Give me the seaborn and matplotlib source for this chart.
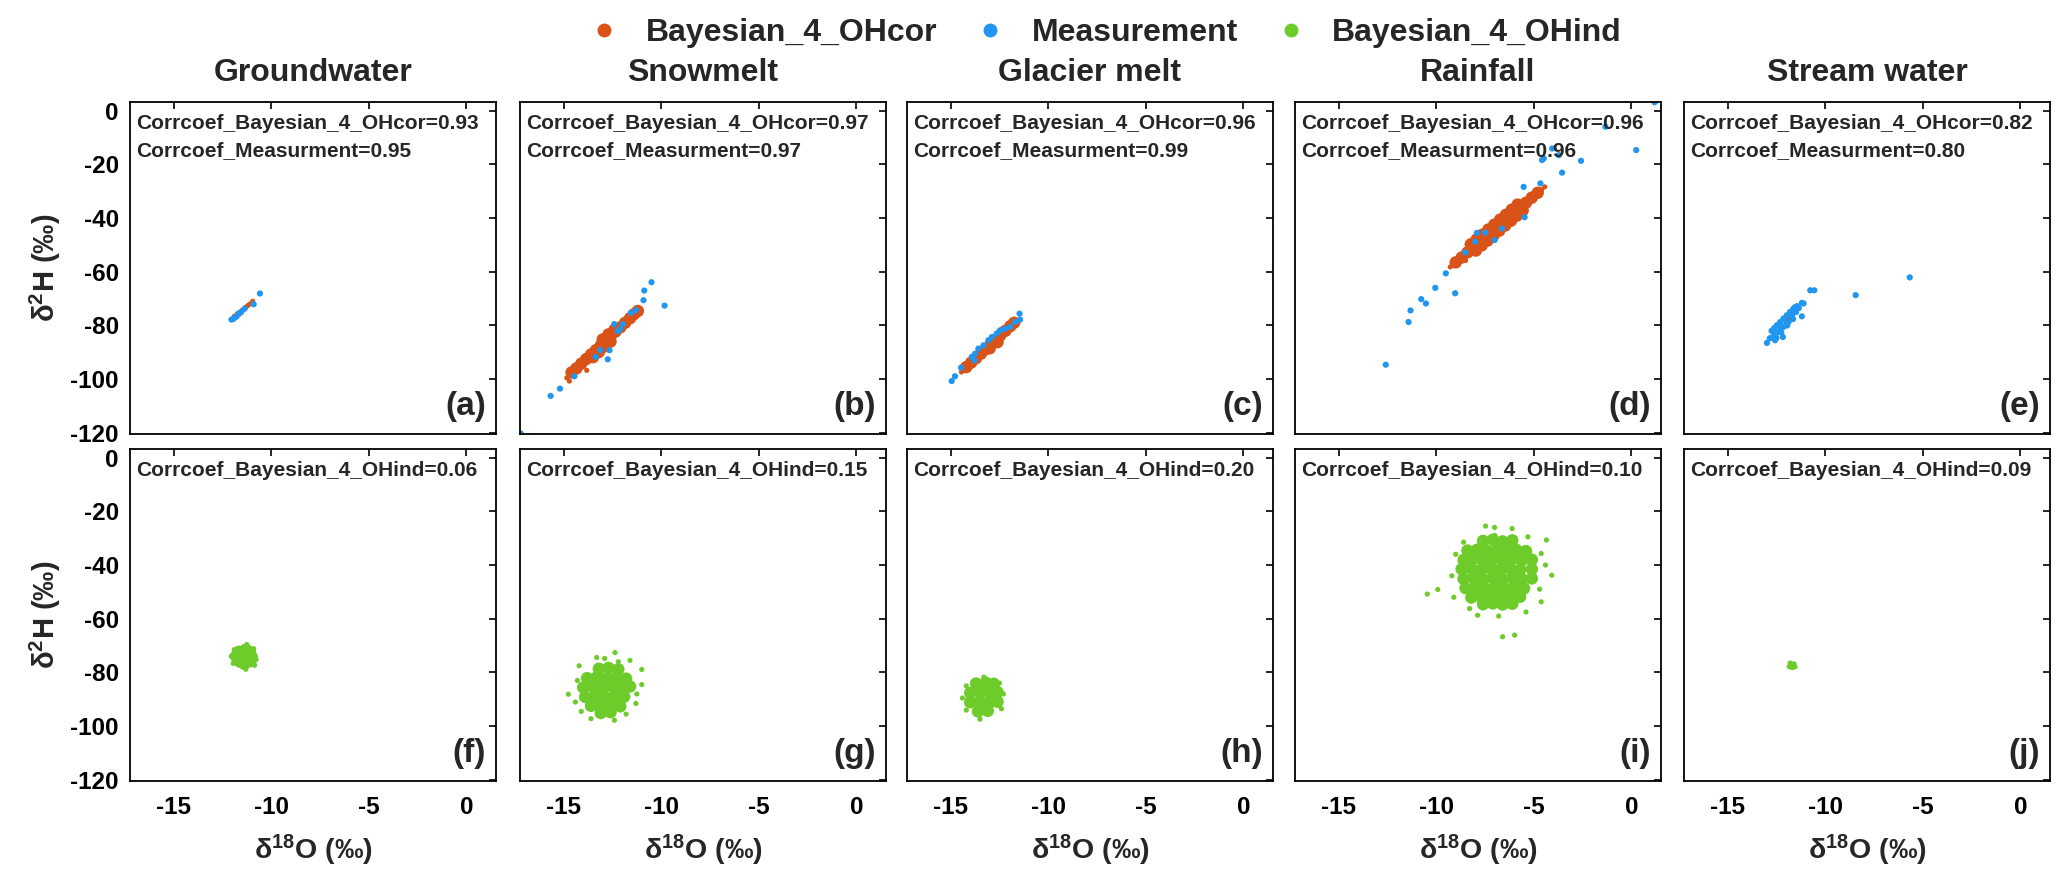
import matplotlib
matplotlib.use("Agg")
import matplotlib.pyplot as plt
import seaborn as sns
import pandas as pd
from matplotlib.lines import Line2D

# ---------------- data ----------------
SOURCES = ["Groundwater", "Snowmelt", "Glacier melt", "Rainfall", "Stream water"]
PANEL_TOP = ["(a)", "(b)", "(c)", "(d)", "(e)"]
PANEL_BOT = ["(f)", "(g)", "(h)", "(i)", "(j)"]
CORR_COR = [0.93, 0.97, 0.96, 0.96, 0.82]
CORR_MEAS = [0.95, 0.97, 0.99, 0.96, 0.80]
CORR_IND = [0.06, 0.15, 0.20, 0.10, 0.09]
SERIES = ["Bayesian_4_OHcor", "Measurement", "Bayesian_4_OHind"]
X_TICKS = [-15, -10, -5, 0]
Y_TICKS = [0, -20, -40, -60, -80, -100, -120]

# Groundwater
GW_COR_CORE = []
GW_COR_EDGE = [(-11.9, -76.6), (-11.75, -75.8), (-11.6, -75.2), (-11.5, -74.4), (-11.4, -74.0),
               (-11.3, -73.2), (-11.2, -72.6), (-11.1, -72.0), (-10.95, -71.0), (-11.65, -75.9)]
GW_MEAS = [(-12.04, -77.8), (-11.95, -77.6), (-11.85, -77.0), (-11.77, -76.6), (-11.65, -75.4),
           (-11.54, -75.0), (-11.36, -73.7), (-10.9, -72.1), (-10.58, -68.1)]
GW_IND_CORE = [(-11.65, -72.3), (-11.1, -72.4), (-11.62, -75.9), (-11.08, -75.8), (-11.35, -74.1),
               (-11.3, -71.5), (-11.38, -76.8), (-11.8, -74.0), (-11.0, -74.2)]
GW_IND_EDGE = [(-12.05, -74.0), (-10.78, -75.2), (-11.25, -69.6), (-11.3, -78.8), (-11.9, -71.5),
               (-10.85, -77.3), (-11.95, -76.6), (-10.9, -71.2)]

# Snowmelt
SM_COR_CORE = [(-14.6, -97.5), (-14.35, -96.0), (-14.1, -94.2), (-13.85, -92.5), (-13.6, -90.8),
               (-13.35, -89.2), (-13.1, -87.5), (-12.85, -85.7), (-12.6, -84.0), (-12.35, -82.3),
               (-12.1, -80.7), (-11.85, -79.0), (-11.6, -77.3), (-11.4, -75.8), (-11.2, -74.6),
               (-13.5, -91.8), (-13.2, -89.9), (-12.9, -87.8), (-12.6, -86.0), (-13.0, -85.2),
               (-12.7, -83.3), (-12.4, -81.6)]
SM_COR_EDGE = [(-14.84, -99.5), (-14.71, -100.7), (-13.82, -96.7), (-11.08, -74.1), (-11.3, -73.6),
               (-14.5, -98.6), (-12.0, -79.5)]
SM_MEAS = [(-17.2, -120.2), (-15.67, -106.2), (-15.19, -103.5), (-14.45, -98.9), (-13.36, -91.7),
           (-13.13, -89.2), (-12.74, -92.6), (-12.65, -89.2), (-12.41, -79.5), (-12.23, -82.1),
           (-12.11, -81.4), (-11.97, -79.5), (-11.56, -75.3), (-11.29, -74.3), (-10.91, -70.6),
           (-10.87, -67.0), (-10.50, -63.9), (-9.83, -72.6)]
SM_IND_CORE = [(-13.2, -78.6), (-12.7, -78.3), (-12.2, -78.8),
               (-13.8, -82.1), (-13.3, -81.8), (-12.8, -82.2), (-12.3, -81.9), (-11.8, -82.3),
               (-14.0, -85.6), (-13.5, -85.3), (-13.0, -85.7), (-12.5, -85.4), (-12.0, -85.6), (-11.6, -85.2),
               (-13.9, -89.1), (-13.4, -88.8), (-12.9, -89.2), (-12.4, -88.9), (-11.9, -89.0),
               (-13.6, -92.4), (-13.1, -92.7), (-12.6, -92.3), (-12.1, -92.6),
               (-13.1, -95.1), (-12.6, -94.8)]
SM_IND_EDGE = [(-14.76, -88.1), (-11.0, -78.9), (-11.0, -84.5), (-12.37, -72.6), (-14.21, -77.5),
               (-13.31, -74.4), (-12.9, -74.8), (-11.6, -75.5), (-14.3, -83.0), (-14.4, -91.0),
               (-11.3, -91.5), (-13.6, -97.2), (-12.4, -97.8), (-11.8, -95.5), (-14.1, -94.5),
               (-12.2, -76.0), (-11.25, -88.0)]

# Glacier melt
GL_COR_CORE = [(-14.2, -95.5), (-13.95, -93.8), (-13.7, -92.2), (-13.45, -90.5), (-13.2, -88.8),
               (-12.95, -87.0), (-12.7, -85.3), (-12.45, -83.6), (-12.2, -82.0), (-11.95, -80.3),
               (-11.75, -79.0), (-13.0, -88.5), (-12.6, -86.2)]
GL_COR_EDGE = [(-14.35, -96.7), (-11.61, -78.1), (-14.45, -97.3)]
GL_MEAS = [(-14.95, -100.7), (-14.78, -98.9), (-14.47, -95.7), (-13.92, -91.7), (-13.75, -90.5),
           (-13.58, -88.6), (-13.32, -87.4), (-13.07, -85.5), (-12.89, -84.3), (-12.64, -83.0),
           (-12.47, -81.8), (-12.21, -81.2), (-11.95, -80.5), (-11.70, -78.7), (-11.47, -75.6),
           (-11.44, -77.8), (-13.78, -93.0)]
GL_IND_CORE = [(-13.7, -84.1), (-13.2, -83.8), (-12.8, -84.2),
               (-14.0, -87.6), (-13.5, -87.4), (-13.0, -87.7), (-12.6, -87.3),
               (-14.0, -91.1), (-13.5, -90.8), (-13.0, -91.2), (-12.6, -90.9),
               (-13.6, -94.5), (-13.1, -94.3)]
GL_IND_EDGE = [(-14.4, -89.5), (-12.3, -88.0), (-13.3, -81.7), (-13.5, -97.4), (-14.2, -85.0),
               (-12.4, -93.5), (-12.5, -84.0), (-14.2, -94.0)]

# Rainfall
RF_COR_CORE = [(-9.0, -56.5), (-8.7, -54.7), (-8.4, -52.8), (-8.1, -51.0), (-7.8, -49.1),
               (-7.5, -47.3), (-7.2, -45.4), (-6.9, -43.6), (-6.6, -41.7), (-6.3, -39.9),
               (-6.0, -38.0), (-5.7, -36.1), (-5.4, -34.3), (-5.1, -32.4), (-4.8, -30.6),
               (-7.97, -52.1), (-8.23, -49.8), (-7.67, -50.2), (-7.93, -48.0), (-7.37, -48.4),
               (-7.63, -46.2), (-7.07, -46.5), (-7.33, -44.3), (-6.77, -44.7), (-7.03, -42.5),
               (-6.47, -42.8), (-6.73, -40.6), (-6.17, -41.0), (-6.43, -38.8), (-5.87, -39.1),
               (-6.13, -36.9), (-5.57, -37.2), (-5.83, -35.0)]
RF_COR_EDGE = [(-9.28, -58.2), (-4.44, -28.4), (-4.6, -29.5), (-9.1, -57.5), (-8.5, -55.8),
               (-5.0, -31.0)]
RF_MEAS = [(-12.59, -94.6), (-11.42, -78.7), (-11.32, -74.4), (-10.77, -70.2), (-10.53, -71.8),
           (-10.05, -66.0), (-9.51, -60.6), (-9.03, -68.0), (-8.51, -52.8), (-8.0, -48.8),
           (-7.91, -45.5), (-7.49, -45.4), (-7.01, -48.2), (-6.63, -43.9), (-5.47, -39.7),
           (-5.52, -28.4), (-4.66, -27.1), (-4.58, -18.4), (-4.49, -17.8), (-4.06, -14.1),
           (-3.72, -16.6), (-3.55, -23.1), (-2.58, -18.7), (-1.33, -6.0), (0.25, -14.7),
           (1.19, 3.1)]
RF_IND_CORE = [(-7.6, -31.0), (-7.1, -30.6), (-6.6, -31.2), (-6.1, -30.8),
               (-8.4, -34.6), (-7.9, -34.3), (-7.4, -34.7), (-6.9, -34.4), (-6.4, -34.6), (-5.9, -34.3), (-5.4, -34.8),
               (-8.6, -38.1), (-8.1, -37.8), (-7.6, -38.2), (-7.1, -37.9), (-6.6, -38.1), (-6.1, -37.8), (-5.6, -38.2), (-5.1, -38.0),
               (-8.7, -41.5), (-8.2, -41.3), (-7.7, -41.7), (-7.2, -41.4), (-6.7, -41.6), (-6.2, -41.3), (-5.7, -41.7), (-5.1, -41.5),
               (-8.6, -45.1), (-8.1, -44.8), (-7.6, -45.2), (-7.1, -44.9), (-6.6, -45.1), (-6.1, -44.8), (-5.6, -45.2), (-5.1, -45.0),
               (-8.5, -48.6), (-8.0, -48.3), (-7.5, -48.7), (-7.0, -48.4), (-6.5, -48.6), (-6.0, -48.3), (-5.5, -48.7),
               (-8.2, -52.1), (-7.7, -51.8), (-7.2, -52.2), (-6.7, -51.9), (-6.2, -52.1), (-5.7, -51.8),
               (-7.6, -54.6), (-7.1, -54.3), (-6.6, -54.7), (-6.1, -54.4)]
RF_IND_EDGE = [(-10.46, -50.8), (-9.92, -49.1), (-7.47, -25.5), (-7.01, -26.0), (-6.11, -26.4),
               (-4.35, -30.7), (-4.62, -35.7), (-4.08, -43.8), (-6.60, -66.7), (-5.98, -66.1),
               (-4.62, -53.7), (-7.88, -58.7), (-8.29, -56.2), (-9.0, -36.0), (-9.2, -44.0),
               (-9.1, -52.0), (-8.6, -31.5), (-5.3, -29.5), (-4.4, -40.0), (-4.7, -49.0),
               (-6.8, -59.0), (-5.4, -57.5), (-7.0, -29.0)]

# Stream water
ST_COR_CORE = []
ST_COR_EDGE = [(-12.3, -80.5), (-11.9, -77.5), (-11.5, -74.0), (-12.6, -83.5), (-11.71, -77.4)]
ST_MEAS = [(-12.99, -86.5), (-12.74, -84.5), (-12.57, -85.5), (-12.17, -84.3), (-12.75, -82.0),
           (-12.62, -81.0), (-12.48, -79.9), (-12.31, -78.7), (-12.14, -77.4), (-11.97, -76.2),
           (-11.80, -74.9), (-11.63, -73.7), (-11.45, -72.8), (-11.20, -71.6), (-11.11, -71.8),
           (-11.20, -76.6), (-12.14, -80.5), (-11.88, -78.7), (-12.4, -82.5), (-12.0, -79.5),
           (-11.7, -76.5), (-11.5, -75.0), (-12.3, -81.2), (-12.55, -83.0), (-11.35, -73.5),
           (-12.85, -84.8), (-12.62, -82.8), (-12.35, -80.0), (-12.05, -77.9), (-11.75, -75.5),
           (-11.55, -73.2), (-12.5, -84.6), (-12.25, -82.6), (-11.95, -80.0), (-11.65, -77.6),
           (-10.77, -66.9), (-10.56, -66.9), (-8.44, -68.7), (-5.67, -62.1)]
ST_IND_CORE = []
ST_IND_EDGE = [(-11.8, -76.5), (-11.6, -76.8), (-11.7, -77.3), (-11.85, -77.8), (-11.55, -77.9),
               (-11.7, -78.2), (-11.75, -76.9)]

COR_CORE = [GW_COR_CORE, SM_COR_CORE, GL_COR_CORE, RF_COR_CORE, ST_COR_CORE]
COR_EDGE = [GW_COR_EDGE, SM_COR_EDGE, GL_COR_EDGE, RF_COR_EDGE, ST_COR_EDGE]
MEAS = [GW_MEAS, SM_MEAS, GL_MEAS, RF_MEAS, ST_MEAS]
IND_CORE = [GW_IND_CORE, SM_IND_CORE, GL_IND_CORE, RF_IND_CORE, ST_IND_CORE]
IND_EDGE = [GW_IND_EDGE, SM_IND_EDGE, GL_IND_EDGE, RF_IND_EDGE, ST_IND_EDGE]

# ---------------- style ----------------
ORANGE = "#D95319"
BLUE = "#2196F0"
GREEN = "#6DCB2A"

sns.set_style("white")
plt.rcParams["font.family"] = ["Liberation Sans", "DejaVu Sans"]
plt.rcParams["font.weight"] = "bold"
plt.rcParams["mathtext.fontset"] = "custom"
plt.rcParams["mathtext.rm"] = "Liberation Sans:bold"
plt.rcParams["mathtext.bf"] = "Liberation Sans:bold"
plt.rcParams["mathtext.it"] = "Liberation Sans:bold"

W, H = 2067, 884
fig = plt.figure(figsize=(W / 100, H / 100), dpi=100)

LEFTS = [130, 520, 907, 1295, 1684]
AW, AH = 366, 332
ROW_TOPS = [102, 449]
XLIM = (-17.24, 1.52)
YLIM = (-120.4, 3.2)

S_CORE, S_EDGE, S_MEAS = 80, 14, 20


def scatter(ax, pts, color, s):
    if not pts:
        return
    d = pd.DataFrame(pts, columns=["x", "y"])
    sns.scatterplot(data=d, x="x", y="y", ax=ax, color=color, s=s,
                    edgecolor="none", linewidth=0, legend=False)


for r in range(2):
    for c in range(5):
        l = LEFTS[c]
        top = ROW_TOPS[r]
        ax = fig.add_axes([l / W, 1 - (top + AH) / H, AW / W, AH / H])
        if r == 0:
            scatter(ax, COR_CORE[c], ORANGE, S_CORE)
            scatter(ax, COR_EDGE[c], ORANGE, S_EDGE)
            scatter(ax, MEAS[c], BLUE, S_MEAS)
            ax.text(0.016, 0.934, f"Corrcoef_Bayesian_4_OHcor={CORR_COR[c]:.2f}",
                    transform=ax.transAxes, fontsize=15, fontweight="bold", va="center", ha="left")
            ax.text(0.016, 0.855, f"Corrcoef_Measurment={CORR_MEAS[c]:.2f}",
                    transform=ax.transAxes, fontsize=15, fontweight="bold", va="center", ha="left")
            label = PANEL_TOP[c]
        else:
            scatter(ax, IND_CORE[c], GREEN, S_CORE)
            scatter(ax, IND_EDGE[c], GREEN, S_EDGE)
            ax.text(0.016, 0.935, f"Corrcoef_Bayesian_4_OHind={CORR_IND[c]:.2f}",
                    transform=ax.transAxes, fontsize=15, fontweight="bold", va="center", ha="left")
            label = PANEL_BOT[c]
        ax.text(0.972, 0.035, label, transform=ax.transAxes, fontsize=24,
                fontweight="bold", ha="right", va="bottom")
        ax.set_xlim(*XLIM)
        ax.set_ylim(*YLIM)
        ax.set_xticks(X_TICKS)
        ax.set_yticks(Y_TICKS)
        ax.set_xticklabels([str(v) for v in X_TICKS])
        ax.set_yticklabels([str(v) for v in Y_TICKS])
        ax.set_xlabel("")
        ax.set_ylabel("")
        ax.tick_params(direction="in", length=5, width=1.2, top=True, right=True,
                       labelsize=17.5, colors="black")
        ax.tick_params(axis="x", pad=11)
        ax.tick_params(axis="y", pad=8)
        for t in ax.get_xticklabels() + ax.get_yticklabels():
            t.set_fontweight("bold")
        if c > 0:
            ax.tick_params(labelleft=False)
        if r == 0:
            ax.tick_params(labelbottom=False)
        for sp in ax.spines.values():
            sp.set_visible(True)
            sp.set_linewidth(1.3)
            sp.set_color("black")
        ax.grid(False)
        if r == 0:
            fig.text((l + AW / 2) / W, 1 - 73 / H, SOURCES[c], fontsize=23,
                     fontweight="bold", ha="center", va="center")
        else:
            fig.text((l + AW / 2) / W, 1 - 850 / H, r"δ$^{\mathbf{18}}$O (‰)", fontsize=20.5,
                     fontweight="bold", ha="center", va="center")

for r in range(2):
    cy = ROW_TOPS[r] + AH / 2
    fig.text(45 / W, 1 - cy / H, r"δ$^{\mathbf{2}}$H (‰)", fontsize=21, fontweight="bold",
             rotation=90, ha="center", va="center")

handles = [Line2D([0], [0], marker="o", linestyle="none", markersize=10,
                  markerfacecolor=col, markeredgecolor="none") for col in (ORANGE, BLUE, GREEN)]
fig.legend(handles, SERIES, loc="center", bbox_to_anchor=(1105 / W, 1 - 33 / H), ncol=3,
           frameon=False, prop={"weight": "bold", "size": 23}, handletextpad=0.8,
           columnspacing=1.15, handlelength=1.0)

fig.savefig("out.png", dpi=100)
